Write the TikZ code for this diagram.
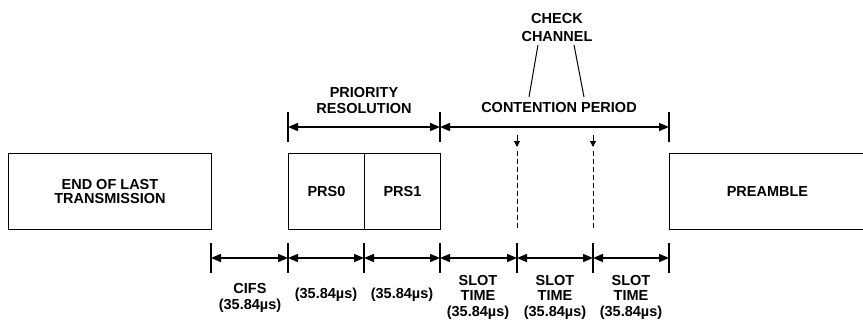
\documentclass[tikz,border=0pt]{standalone}
\usepackage{fontspec}
\setmainfont{Liberation Sans}
\usetikzlibrary{arrows.meta}

\begin{document}
\begin{tikzpicture}[x=1pt, y=-1pt,
    every node/.style={font=\fontsize{14.5}{15.5}\selectfont\bfseries, align=center, inner sep=0pt},
    frame/.style={draw, line width=0.9pt, minimum height=76pt, anchor=north west},
    span/.style={{Triangle[length=10pt,width=8pt]}-{Triangle[length=10pt,width=8pt]}, line width=1.5pt},
    tick/.style={line width=1.3pt}]
    \useasboundingbox (0,0) rectangle (863,327);

    % frames on the time line
    \node[frame, minimum width=203pt, font=\fontsize{14.5}{13.5}\selectfont\bfseries] (last) at (8,153) {END OF LAST\\TRANSMISSION};
    \node[frame, minimum width=76pt] (prs0) at (288,153) {PRS0};
    \node[frame, minimum width=76pt] (prs1) at (364,153) {PRS1};
    \node[frame, minimum width=196pt] (pre) at (669,153) {PREAMBLE};

    % bottom intervals
    \foreach \x [count=\i from 0] in {211,288,364,440,517,593,669} {
        \coordinate (t\i) at (\x,258);
        \draw[tick] (\x,243) -- (\x,273);
    }
    \foreach \a/\b in {0/1,1/2,2/3,3/4,4/5,5/6}
        \draw[span] (t\a) -- (t\b);

    \node (cifs) at (250,298) {CIFS\\(35.84µs)};
    \node (d0) at (326,295) {(35.84µs)};
    \node (d1) at (402,295) {(35.84µs)};
    \node (s0) at (478,297) {SLOT\\TIME\\(35.84µs)};
    \node (s1) at (555,297) {SLOT\\TIME\\(35.84µs)};
    \node (s2) at (631,297) {SLOT\\TIME\\(35.84µs)};

    % top intervals
    \foreach \x [count=\i from 0] in {288,440,669} {
        \coordinate (u\i) at (\x,127);
        \draw[tick] (\x,112) -- (\x,142);
    }
    \draw[span] (u0) -- (u1);
    \draw[span] (u1) -- (u2);
    \node (prio) at (364,100.5) {PRIORITY\\RESOLUTION};
    \node (cont) at (559,108) {CONTENTION PERIOD};

    % slot boundaries where the channel is checked
    \node[font=\fontsize{14.5}{18}\selectfont\bfseries] (check) at (557,27.5) {CHECK\\CHANNEL};
    \coordinate (c1) at (529,97);
    \coordinate (c2) at (584,97);
    \draw[line width=1pt] ([xshift=-19pt,yshift=-3pt]check.south) -- (c1);
    \draw[line width=1pt] ([xshift=17pt,yshift=-3pt]check.south) -- (c2);
    \foreach \x in {517,593} {
        \draw[line width=1pt, -{Triangle[length=6pt,width=6pt]}] (\x,135) -- (\x,147);
        \draw[line width=1pt, dash pattern=on 5pt off 3pt] (\x,151) -- (\x,229);
    }
\end{tikzpicture}
\end{document}
